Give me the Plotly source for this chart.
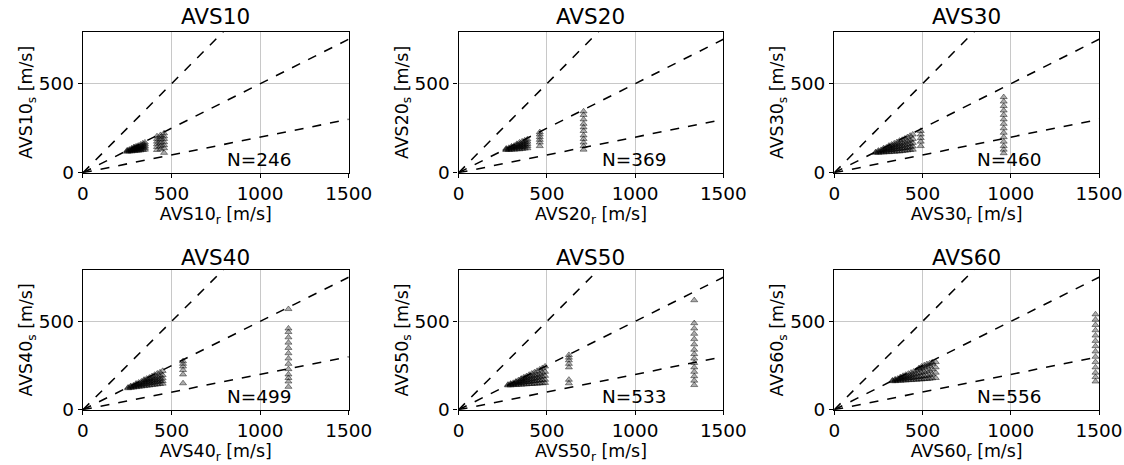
import plotly.graph_objects as go

# ---------------- data ----------------
panel_names = ["AVS10", "AVS20", "AVS30", "AVS40", "AVS50", "AVS60"]
panel_counts = [246, 369, 460, 499, 533, 556]
ref_slopes = [1.0, 0.5, 0.2]
x_ticks = [0, 500, 1000, 1500]
y_ticks = [0, 500]

AVS10_cols = [
    (250, [118, 122, 126]), (262, [120, 125, 130]), (275, [120, 126, 132, 137]),
    (288, [122, 128, 134, 140, 144]), (300, [124, 130, 136, 142, 148]),
    (312, [124, 130, 138, 145, 152]), (325, [126, 134, 142, 150, 158]),
    (338, [128, 136, 145, 155, 165]), (350, [130, 140, 150, 160, 170]),
    (418, [128, 145, 160, 175, 190, 205]), (438, [132, 150, 168, 185, 200, 212]),
    (458, [112, 138, 155, 172, 190, 205, 222]),
]
AVS20_cols = [
    (270, [128, 132, 136]), (285, [128, 134, 140]), (300, [130, 136, 142, 148]),
    (315, [130, 138, 145, 152]), (330, [132, 140, 148, 156, 162]),
    (345, [132, 142, 150, 160, 170]), (360, [134, 144, 154, 165, 176]),
    (375, [136, 146, 158, 170, 182]), (390, [138, 150, 162, 175, 188]),
    (460, [150, 170, 185, 200, 215, 228]),
    (708, [130, 150, 170, 190, 210, 235, 255, 275, 300, 325, 345]),
]
AVS30_cols = [
    (235, [112, 116]), (250, [112, 118, 124]), (265, [114, 120, 128]),
    (280, [114, 122, 130, 138]), (295, [116, 124, 132, 142]),
    (310, [116, 126, 136, 146, 152]), (325, [118, 128, 138, 150, 158]),
    (340, [118, 130, 142, 154, 165]), (355, [120, 132, 144, 158, 172]),
    (370, [120, 134, 148, 162, 180]), (385, [122, 136, 150, 166, 185]),
    (400, [124, 138, 154, 170, 192]), (415, [126, 140, 158, 176, 200]),
    (430, [128, 144, 162, 182, 208]), (445, [130, 148, 168, 190, 215]),
    (490, [150, 175, 195, 215, 235]),
    (960, [110, 130, 150, 175, 200, 225, 250, 275, 300, 325, 350, 375, 400, 425]),
]
AVS40_cols = [
    (255, [122, 126]), (270, [124, 130, 134]), (285, [126, 132, 138]),
    (300, [128, 134, 142, 148]), (315, [130, 138, 146, 154]),
    (330, [132, 140, 150, 160]), (345, [134, 144, 154, 165, 170]),
    (360, [136, 146, 158, 168, 176]), (375, [138, 150, 160, 172, 182]),
    (390, [140, 152, 164, 176, 190]), (405, [142, 154, 168, 180, 198]),
    (420, [144, 158, 170, 186, 205]), (435, [146, 160, 174, 190, 212]),
    (450, [148, 162, 178, 196, 220]),
    (565, [150, 200, 225, 245, 260, 275]),
    (1160, [130, 160, 180, 200, 230, 260, 290, 320, 350, 380, 410, 440, 460, 570]),
]
AVS50_cols = [
    (280, [138, 142]), (295, [138, 144, 148]), (310, [140, 146, 152]),
    (325, [140, 148, 156, 160]), (340, [142, 150, 158, 168]),
    (355, [142, 152, 162, 172, 176]), (370, [144, 154, 164, 176, 184]),
    (385, [144, 156, 168, 180, 190]), (400, [146, 158, 170, 184, 198]),
    (415, [146, 160, 174, 188, 205]), (430, [148, 162, 176, 192, 212]),
    (445, [148, 164, 180, 196, 220]), (460, [150, 166, 184, 202, 228]),
    (475, [150, 168, 188, 210, 236]), (490, [152, 170, 192, 215, 245]),
    (625, [150, 170, 240, 260, 280, 295, 310]),
    (1335, [140, 165, 190, 215, 240, 265, 290, 315, 340, 370, 400, 430, 460, 490, 620]),
]
AVS60_cols = [
    (330, [162, 166]), (345, [162, 168, 172]), (360, [164, 170, 176]),
    (375, [164, 172, 180, 185]), (390, [166, 174, 182, 192]),
    (405, [166, 176, 186, 198]), (420, [168, 178, 190, 204]),
    (435, [168, 180, 194, 210]), (450, [170, 182, 198, 216]),
    (465, [170, 184, 202, 222]), (480, [172, 186, 206, 228, 236]),
    (495, [172, 188, 210, 234, 245]), (510, [174, 190, 214, 240, 252]),
    (525, [174, 192, 218, 245, 258]), (540, [176, 195, 222, 250, 262]),
    (555, [178, 200, 230, 260, 268]), (575, [180, 210, 240, 270]),
    (1480, [160, 185, 210, 240, 270, 300, 330, 360, 390, 420, 450, 480, 510, 540]),
]
all_cols = [AVS10_cols, AVS20_cols, AVS30_cols, AVS40_cols, AVS50_cols, AVS60_cols]

# ---------------- layout geometry ----------------
W, H = 1124, 465          # reference picture size
S = 1.025                 # compensates the slight down-scaling seen in the capture
x_dom_px = [(77, 343), (453, 718), (829, 1094)]
y_dom_px = [(32, 172), (269, 408)]
title_y_px = [16, 256]
X_MAX = 1500
Y_MAX = 790
FONT = "DejaVu Sans"
TICK_SIZE = 18 * S
LABEL_SIZE = 17 * S
TITLE_SIZE = 21 * S

fig = go.Figure()
annotations = []
for i, name in enumerate(panel_names):
    r, c = divmod(i, 3)
    k = "" if i == 0 else str(i + 1)
    xa, ya = "x" + k, "y" + k
    x0, x1 = x_dom_px[c]
    yt, yb = y_dom_px[r]
    fig.update_layout(**{
        "xaxis" + k: dict(
            domain=[x0 / W, x1 / W], anchor=ya, range=[0, X_MAX],
            tickvals=x_ticks, showgrid=True, gridcolor="#c8c8c8", gridwidth=1,
            zeroline=False, showline=True, linecolor="black", linewidth=1.2 * S,
            mirror=True, ticks="outside", ticklen=4 * S, tickcolor="black",
            tickfont=dict(family=FONT, size=TICK_SIZE, color="black"),
            title=dict(text=f"{name}<sub>r</sub> [m/s]", standoff=0,
                       font=dict(family=FONT, size=LABEL_SIZE, color="black")),
        ),
        "yaxis" + k: dict(
            domain=[1 - yb / H, 1 - yt / H], anchor=xa, range=[0, Y_MAX],
            tickvals=y_ticks, showgrid=True, gridcolor="#c8c8c8", gridwidth=1,
            zeroline=False, showline=True, linecolor="black", linewidth=1.2 * S,
            mirror=True, ticks="outside", ticklen=4 * S, tickcolor="black",
            tickfont=dict(family=FONT, size=TICK_SIZE, color="black"),
            title=dict(text=f"{name}<sub>s</sub> [m/s]", standoff=0,
                       font=dict(family=FONT, size=LABEL_SIZE, color="black")),
        ),
    })
    xs, ys = [], []
    for xv, yl in all_cols[i]:
        for yv in yl:
            xs.append(xv)
            ys.append(yv)
    fig.add_trace(go.Scatter(
        x=xs, y=ys, mode="markers", xaxis=xa, yaxis=ya, showlegend=False,
        marker=dict(symbol="triangle-up", size=6 * S, color="rgba(0,0,0,0.32)",
                    line=dict(color="rgba(0,0,0,0.55)", width=0.8)),
    ))
    for s in ref_slopes:
        fig.add_trace(go.Scatter(
            x=[0, X_MAX], y=[0, s * X_MAX], mode="lines", xaxis=xa, yaxis=ya,
            showlegend=False, line=dict(color="black", width=1.5 * S, dash="dash"),
        ))
    annotations.append(dict(
        text=name, x=(x0 + x1) / 2 / W, y=1 - title_y_px[r] / H, xref="paper", yref="paper",
        showarrow=False, xanchor="center", yanchor="middle",
        font=dict(family=FONT, size=TITLE_SIZE, color="black"),
    ))
    annotations.append(dict(
        text=f"N={panel_counts[i]}", x=800, y=75, xref=xa, yref=ya,
        showarrow=False, xanchor="left", yanchor="middle",
        font=dict(family=FONT, size=TICK_SIZE, color="black"),
    ))

fig.update_layout(
    width=round(W * S), height=round(H * S), margin=dict(l=0, r=0, t=0, b=0),
    paper_bgcolor="white", plot_bgcolor="white",
    annotations=annotations, font=dict(family=FONT, color="black"),
)
fig.write_html(
    "out.html",
    config={"displayModeBar": False},
    post_script=(
        "var d=document.documentElement,b=document.body;"
        "d.style.margin='0';d.style.padding='0';"
        "b.style.margin='0';b.style.padding='0';"
    ),
)
